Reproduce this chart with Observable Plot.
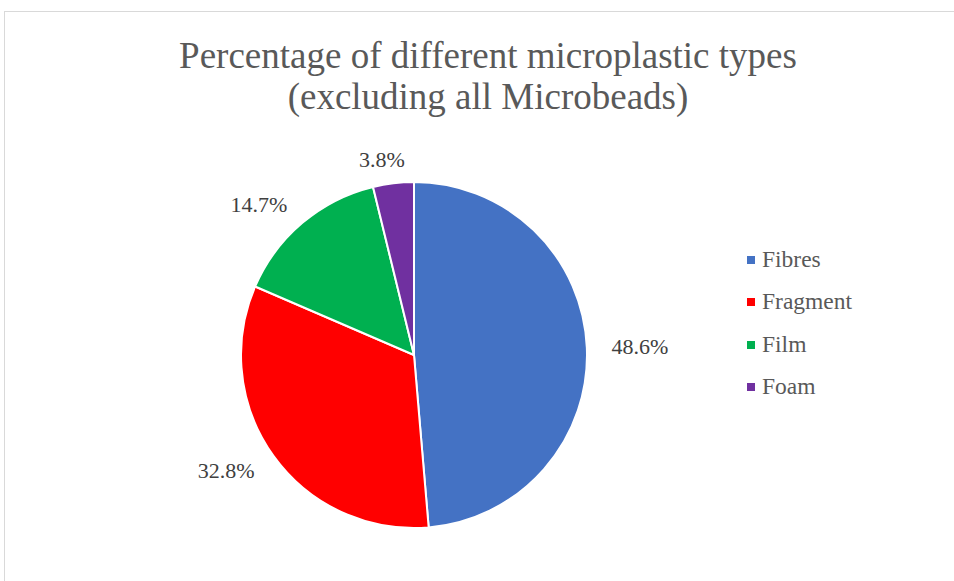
<!DOCTYPE html>
<html>
<head>
<meta charset="utf-8">
<script src="https://cdn.jsdelivr.net/npm/d3@7"></script>
<script src="https://cdn.jsdelivr.net/npm/@observablehq/plot@0.6"></script>
<style>
  html, body { margin: 0; padding: 0; background: #fff; }
  #wrap { position: relative; width: 954px; height: 581px; overflow: hidden; font-family: 'Liberation Serif', Tinos, 'Times New Roman', Times, 'DejaVu Serif', serif; }
  #frame { position: absolute; left: 4px; top: 11px; width: 1000px; height: 700px; border: 1px solid #d9d9d9; box-sizing: border-box; }
  #title { position: absolute; left: 0; top: 35px; width: 976px; text-align: center; color: #595959; font-size: 37px; line-height: 41px; }
  #chart { position: absolute; left: 0; top: 0; }
  #chart svg text { font-family: 'Liberation Serif', Tinos, 'Times New Roman', Times, 'DejaVu Serif', serif; }
  .sw { position: absolute; left: 747px; width: 8px; height: 8px; }
  .leg { position: absolute; left: 762px; color: #595959; font-size: 23.5px; line-height: 24px; white-space: nowrap; }
</style>
</head>
<body>
<div id="wrap">
  <div id="frame"></div>
  <div id="chart"></div>
  <div id="title">Percentage of different microplastic types<br>(excluding all Microbeads)</div>
</div>
<script>
const types = ["Fibres", "Fragment", "Film", "Foam"];
const shares = [48.6, 32.8, 14.7, 3.8];
const colors = ["#4472C4", "#FF0000", "#00B050", "#7030A0"];
const labels = ["48.6%", "32.8%", "14.7%", "3.8%"];

const data = types.map((t, i) => ({type: t, value: shares[i], label: labels[i]}));
const arcs = d3.pie().sort(null).value(d => d.value)(data);

const labelR = 1.14;
const labelData = arcs.map(a => {
  const mid = (a.startAngle + a.endAngle) / 2;
  const sx = Math.sin(mid), cy = Math.cos(mid);
  return {
    x: sx * labelR,
    y: cy * labelR,
    label: a.data.label,
    anchor: Math.abs(sx) < 0.3 ? "middle" : (sx > 0 ? "start" : "end")
  };
});

function pieMark(index, scales, values, dimensions, context) {
  const sx = scales.x, sy = scales.y;
  const cx = sx(0), cyp = sy(0);
  const R = sx(1) - sx(0);
  const arcGen = d3.arc().innerRadius(0).outerRadius(R);
  const g = d3.create("svg:g").attr("transform", `translate(${cx},${cyp})`);
  g.selectAll("path")
    .data(arcs)
    .join("path")
    .attr("d", arcGen)
    .attr("fill", d => colors[types.indexOf(d.data.type)])
    .attr("stroke", "#fff")
    .attr("stroke-width", 2)
    .attr("stroke-linejoin", "round");
  return g.node();
}

const W = 954, H = 581;
const CX = 414, CY = 355, RAD = 173;

const plot = Plot.plot({
  width: W,
  height: H,
  marginLeft: CX - RAD,
  marginRight: W - (CX + RAD),
  marginTop: CY - RAD,
  marginBottom: H - (CY + RAD),
  x: {domain: [-1, 1], axis: null},
  y: {domain: [-1, 1], axis: null},
  style: {background: "transparent", fontFamily: "'Liberation Serif', Tinos, 'Times New Roman', serif"},
  marks: [
    pieMark,
    ...["start", "middle", "end"].map(anc => Plot.text(labelData.filter(d => d.anchor === anc), {
      x: "x", y: "y", text: "label",
      textAnchor: anc,
      dx: anc === "middle" ? -9 : 0,
      fontSize: 22,
      fill: "#404040"
    }))
  ]
});
document.getElementById("chart").appendChild(plot);

const wrap = document.getElementById("wrap");
const legCenter = [259.5, 302, 344.5, 387];
types.forEach((t, i) => {
  const s = document.createElement("div");
  s.className = "sw";
  s.style.top = (legCenter[i] - 4) + "px";
  s.style.background = colors[i];
  wrap.appendChild(s);
  const d = document.createElement("div");
  d.className = "leg";
  d.style.top = (legCenter[i] - 13) + "px";
  d.textContent = t;
  wrap.appendChild(d);
});
</script>
</body>
</html>
